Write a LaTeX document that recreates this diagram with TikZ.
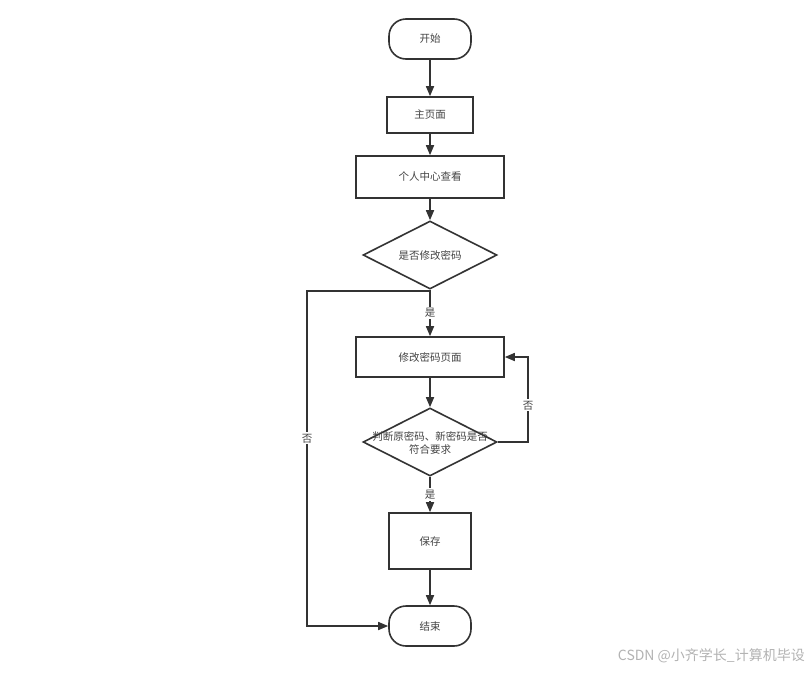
\documentclass[tikz,border=0pt]{standalone}
\usepackage{fontspec}
\setmainfont{Noto Sans CJK SC}
\usetikzlibrary{arrows.meta,shapes.geometric,positioning}
\definecolor{ln}{HTML}{333333}
\definecolor{tx}{HTML}{444444}
\begin{document}
\begin{tikzpicture}[x=1pt,y=-1pt,
  base/.style={draw=ln,line width=1.6pt,text=tx,font=\fontsize{10.5}{13}\selectfont,inner sep=0pt,fill=white},
  term/.style={base,rounded corners=17pt,minimum width=82pt,minimum height=40pt},
  proc/.style={base,rectangle},
  dec/.style={base,diamond,aspect=2},
  arr/.style={draw=ln,line width=1.6pt,-{Triangle[length=10pt,width=8pt]}},
  lab/.style={fill=white,text=tx,font=\fontsize{10.5}{12}\selectfont,inner sep=1.5pt}]
\useasboundingbox (0,0) rectangle (810,672);
\node[term] (start) at (430,39) {开始};
\node[proc,minimum width=86pt,minimum height=36pt] (home) at (430,115) {主页面};
\node[proc,minimum width=148pt,minimum height=42pt] (center) at (430,177) {个人中心查看};
\node[dec,minimum width=134pt,minimum height=68pt] (d1) at (430,255) {是否修改密码};
\node[proc,minimum width=148pt,minimum height=40pt] (pw) at (430,357) {修改密码页面};
\node[dec,minimum width=134pt,minimum height=68pt] (d2) at (430,442) {};
\node[text=tx,font=\fontsize{10.5}{13}\selectfont,align=center,inner sep=0pt] (d2t) at (430,442.5) {判断原密码、新密码是否\\符合要求};
\node[proc,minimum width=82pt,minimum height=56pt] (save) at (430,541) {保存};
\node[term] (end) at (430,626) {结束};
\coordinate (lc) at (307,291);
\coordinate (rc) at (528,442);
\draw[arr] (start) -- (home);
\draw[arr] (home) -- (center);
\draw[arr] (center) -- (d1);
\draw[arr] (d1.south) -- node[lab,pos=0.5]{是} (pw.north);
\draw[arr] (d1.south) |- (lc) -- node[lab,pos=0.44]{否} (lc |- end.west) -- (end.west);
\draw[arr] (pw) -- (d2);
\draw[arr] (d2.east) -- (rc) -- node[lab,pos=0.43]{否} (rc |- pw.east) -- (pw.east);
\draw[arr] (d2.south) -- node[lab,pos=0.5]{是} (save.north);
\draw[arr] (save) -- (end);
\node[text=black!30,font=\fontsize{14}{16}\selectfont,anchor=east,inner sep=0pt] (wm) at (805,656) {CSDN @小齐学长\_计算机毕设};
\end{tikzpicture}
\end{document}
